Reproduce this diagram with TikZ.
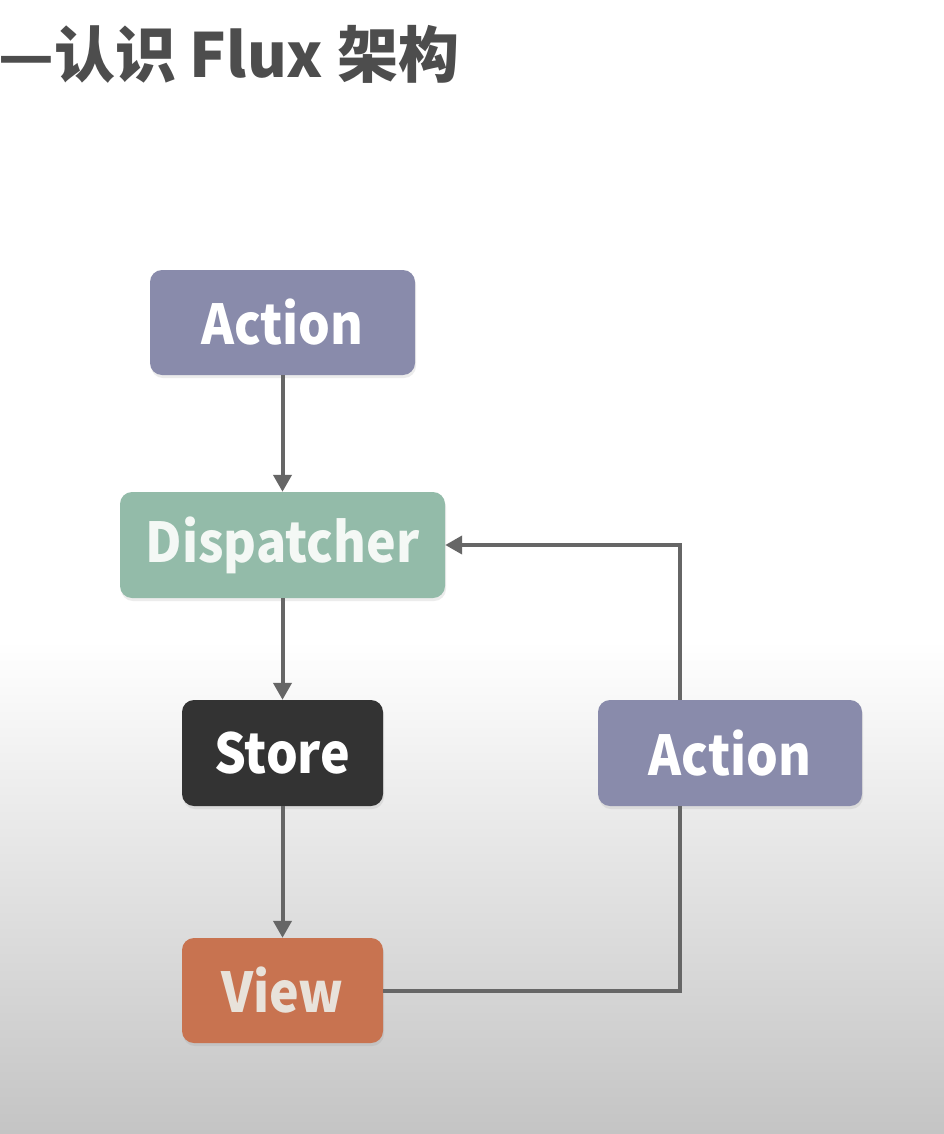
\documentclass[tikz,border=0pt]{standalone}
\usepackage{fontspec}
\newfontfamily\cjk{Noto Sans CJK SC}
\newfontfamily\cjkn{Noto Sans CJK SC}[FakeStretch=0.91]
\usetikzlibrary{arrows.meta,shadows}
\definecolor{actc}{RGB}{137,139,171}
\definecolor{dispc}{RGB}{147,187,169}
\definecolor{storec}{RGB}{51,51,51}
\definecolor{viewc}{RGB}{200,115,80}
\definecolor{viewtxt}{RGB}{232,226,218}
\definecolor{disptxt}{RGB}{244,248,245}
\definecolor{linec}{RGB}{102,102,102}
\definecolor{titlec}{RGB}{77,77,77}
\definecolor{bgbot}{RGB}{196,196,196}
\tikzset{
  box/.style={rounded corners=12pt, inner sep=0pt, text=white,
    font=\cjkn\bfseries\fontsize{55}{60}\selectfont,
    drop shadow={opacity=0.15, shadow xshift=1pt, shadow yshift=-3pt}},
  link/.style={draw=linec, line width=4pt},
  conn/.style={link, -{Triangle[width=18pt,length=17pt]}}
}
\begin{document}
\begin{tikzpicture}[x=1pt,y=-1pt]
\useasboundingbox (0,0) rectangle (944,1134);
\fill[white] (0,0) rectangle (944,1134);
\shade[top color=white, bottom color=bgbot] (0,640) rectangle (944,1134);
\node[anchor=base west, text=titlec, font=\cjk\bfseries\fontsize{61}{68}\selectfont, inner sep=0pt] (title) at (-2,78) {—认识 Flux 架构};
\node[box, fill=actc, minimum width=265pt, minimum height=105pt] (a1) at (282.5,322.5) {Action};
\node[box, fill=dispc, minimum width=325pt, minimum height=106pt, text=disptxt] (disp) at (282.5,545) {Dispatcher};
\node[box, fill=storec, minimum width=201pt, minimum height=106pt] (store) at (282.5,753) {Store};
\node[box, fill=viewc, minimum width=201pt, minimum height=105pt, text=viewtxt] (view) at (282.5,990.5) {View};
\node[box, fill=actc, minimum width=264pt, minimum height=106pt] (a2) at (730,753) {Action};
\draw[conn] (a1) -- (disp);
\draw[conn] (disp) -- (store);
\draw[conn] (store) -- (view);
\draw[link] (view.east) -| ([xshift=-50pt]a2.south);
\draw[conn] ([xshift=-50pt]a2.north) |- (disp.east);
\end{tikzpicture}
\end{document}
